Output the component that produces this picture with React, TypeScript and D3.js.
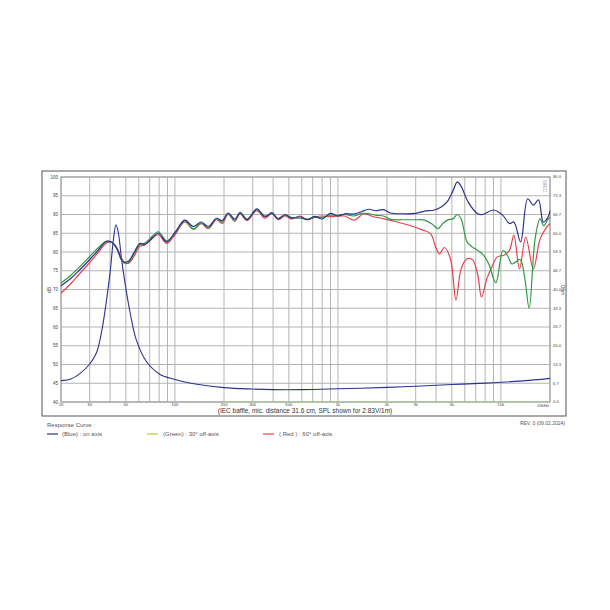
import { scaleLinear, scaleLog, line, curveCatmullRom, range } from "d3";

// on axis (blue) — [Hz, dB]
const blueSpl: [number, number][] = [
  [20, 71.0], [23, 73.0], [26, 75.2], [30, 78.0], [34, 80.6], [38, 82.8], [41, 82.6],
  [44, 81.0], [47, 78.0], [49, 77.3], [52, 77.6], [56, 79.8], [61, 82.3], [65, 82.0],
  [70, 83.0], [79, 85.0], [89, 82.7], [100, 85.2], [115, 88.5], [130, 86.8], [145, 88.0],
  [160, 86.8], [180, 89.0], [195, 88.4], [212, 90.4], [233, 88.8], [251, 90.4], [277, 88.6],
  [318, 91.5], [357, 89.4], [394, 90.5], [429, 88.8], [473, 90.0], [520, 89.0], [585, 89.4],
  [650, 88.6], [720, 89.5], [800, 88.8], [900, 90.3], [1000, 89.6], [1100, 90.2], [1250, 90.1],
  [1400, 90.8], [1550, 91.4], [1700, 91.0], [1900, 91.3], [2100, 90.4], [2500, 90.2],
  [3000, 90.3], [3400, 90.9], [3900, 91.2], [4300, 92.0], [4700, 93.5], [5100, 96.5],
  [5400, 98.7], [5700, 97.5], [6300, 93.3], [7200, 90.2], [7700, 90.0], [9000, 91.2],
  [10200, 89.9], [11300, 87.6], [12000, 88.0], [13200, 82.7], [14600, 94.2], [15800, 92.5],
  [17000, 93.9], [18200, 88.0], [19400, 89.2], [20000, 91.0],
];

// 30° off-axis (green)
const greenSpl: [number, number][] = [
  [20, 71.7], [23, 73.8], [26, 76.0], [30, 78.8], [34, 81.2], [38, 82.9], [41, 82.5],
  [44, 80.8], [47, 77.8], [49, 77.0], [52, 77.2], [56, 79.4], [61, 82.0], [65, 82.3],
  [70, 83.5], [79, 85.4], [89, 83.0], [100, 85.0], [115, 88.3], [130, 86.2], [145, 87.6],
  [160, 86.4], [180, 88.8], [195, 88.0], [212, 90.2], [233, 88.4], [251, 90.6], [277, 88.8],
  [318, 91.2], [357, 89.6], [394, 90.2], [429, 89.0], [473, 89.8], [520, 89.2], [585, 89.0],
  [650, 88.8], [720, 89.2], [800, 89.2], [900, 89.8], [1000, 89.8], [1100, 90.0], [1250, 89.6],
  [1400, 90.3], [1550, 90.2], [1700, 89.8], [1900, 89.6], [2100, 88.7], [2500, 88.6],
  [3000, 88.6], [3400, 88.5], [3800, 87.4], [4100, 86.2], [4400, 87.6], [4700, 88.5],
  [5100, 88.9], [5400, 90.0], [5700, 88.8], [6200, 82.7], [6700, 81.3], [7700, 79.5],
  [8400, 76.9], [9300, 71.8], [10300, 80.4], [11000, 79.0], [11700, 76.8], [13100, 78.0],
  [14000, 73.0], [14900, 65.0], [16200, 83.5], [17400, 88.9], [18300, 87.0], [19300, 88.5],
  [20000, 89.3],
];

// 60° off-axis (red)
const redSpl: [number, number][] = [
  [20, 69.0], [23, 71.6], [26, 74.2], [30, 77.2], [34, 80.0], [38, 82.4], [41, 82.6],
  [44, 81.2], [47, 78.4], [49, 77.2], [52, 77.0], [56, 78.8], [61, 81.5], [65, 81.8],
  [70, 83.0], [79, 84.6], [89, 82.3], [100, 84.6], [115, 88.0], [130, 86.0], [145, 87.6],
  [160, 86.2], [180, 88.6], [195, 87.6], [212, 90.0], [233, 88.2], [251, 90.2], [277, 88.4],
  [318, 91.0], [357, 89.0], [394, 90.3], [429, 88.6], [473, 89.6], [520, 88.8], [585, 89.6],
  [650, 88.6], [720, 89.3], [800, 89.6], [900, 89.4], [1000, 89.6], [1100, 89.6], [1260, 88.5],
  [1440, 90.2], [1650, 89.4], [1900, 88.9], [2300, 88.0], [2700, 87.2], [3300, 85.9],
  [3700, 84.9], [4000, 81.0], [4200, 79.5], [4500, 81.2], [4900, 78.2], [5300, 67.2],
  [5700, 75.5], [6200, 78.2], [6700, 77.9], [7200, 74.0], [7600, 68.0], [8200, 72.9],
  [8700, 75.5], [9500, 78.7], [10500, 79.2], [11300, 80.5], [12000, 84.5], [13000, 75.5],
  [14200, 84.0], [15800, 75.5], [17400, 83.5], [19000, 86.5], [20000, 87.6],
];

// impedance (blue, right axis) — [Hz, Ohm]
const impedance: [number, number][] = [
  [20, 7.6], [23, 8.2], [26, 10.0], [30, 13.5], [33, 17.5], [35.5, 25.0], [38, 36.0],
  [40, 46.0], [42, 58.0], [43.5, 63.0], [45, 60.0], [47, 51.0], [49.5, 42.0], [53, 32.0],
  [58, 22.0], [67, 14.3], [81, 9.8], [93, 8.5], [110, 7.4], [140, 6.2], [200, 5.1],
  [300, 4.6], [400, 4.4], [600, 4.4], [1000, 4.7], [2000, 5.2], [3000, 5.6], [5000, 6.2],
  [8000, 6.7], [10000, 7.0], [15000, 7.7], [20000, 8.4],
];

const xTickVals = [20, 30, 50, 100, 200, 300, 500, 1000, 2000, 3000, 5000, 10000, 20000];
const xTickText = ["20", "30", "50", "100", "200", "300", "500", "1k", "2k", "3k", "5k", "10k", "20kHz"];
const ohmTicks = ["0.0", "6.7", "13.3", "20.0", "26.7", "33.3", "40.0", "46.7", "53.3", "60.0", "66.7", "73.3", "80.0"];

const BLUE = "#2e3190";
const GREEN = "#2f9a44";
const RED = "#e5424f";
const FONT = "Liberation Sans, Arial, sans-serif";

const left = 61;
const right = 550;
const top = 177;
const bottom = 402;

function App() {
  const x = scaleLog().domain([20, 20000]).range([left, right]);
  const y = scaleLinear().domain([40, 100]).range([bottom, top]);
  const yOhm = scaleLinear().domain([0, 80]).range([bottom, top]);

  const spl = line<[number, number]>()
    .x((d) => x(d[0]))
    .y((d) => y(d[1]))
    .curve(curveCatmullRom.alpha(0.5));
  const imp = line<[number, number]>()
    .x((d) => x(d[0]))
    .y((d) => yOhm(d[1]))
    .curve(curveCatmullRom.alpha(0.5));

  const dbTicks = range(40, 101, 5);
  const last = xTickVals.length - 1;

  return (
    <svg
      width={610}
      height={610}
      style={{ position: "absolute", left: 0, top: 0, background: "#fff" }}
      fontFamily={FONT}
    >
      {/* outer frame */}
      <rect x={42} y={171} width={524} height={245} fill="none" stroke="#555" strokeWidth={1} />

      {/* grid */}
      {x.ticks().map((f, i) => (
        <line key={"v" + i} x1={x(f)} x2={x(f)} y1={top} y2={bottom} stroke="#b4b4b4" strokeWidth={1} />
      ))}
      {dbTicks.map((d) => (
        <line key={"h" + d} x1={left} x2={right} y1={y(d)} y2={y(d)} stroke="#b4b4b4" strokeWidth={1} />
      ))}
      <rect x={left} y={top} width={right - left} height={bottom - top} fill="none" stroke="#999" strokeWidth={1} />
      <line x1={x(200)} x2={x(20000)} y1={bottom} y2={bottom} stroke="#a9d39a" strokeWidth={1.2} />

      {/* curves */}
      <path d={imp(impedance) ?? ""} fill="none" stroke={BLUE} strokeWidth={1.1} />
      <path d={spl(redSpl) ?? ""} fill="none" stroke={RED} strokeWidth={1.2} />
      <path d={spl(greenSpl) ?? ""} fill="none" stroke={GREEN} strokeWidth={1.2} />
      <path d={spl(blueSpl) ?? ""} fill="none" stroke={BLUE} strokeWidth={1.2} />

      {/* left axis */}
      {dbTicks.map((d) => (
        <text key={"l" + d} x={58} y={y(d)} dy="0.35em" fontSize={4.5} textAnchor="end" fill="#444">
          {d}
        </text>
      ))}
      <text x={49} y={290} fontSize={5} fill="#444" textAnchor="middle" transform="rotate(-90 49 290)" dy="0.35em">
        dB
      </text>

      {/* right axis */}
      {ohmTicks.map((t, i) => (
        <text key={"r" + t} x={553} y={yOhm((i * 80) / 12)} dy="0.35em" fontSize={4.2} fill="#444">
          {t}
        </text>
      ))}
      <text x={563} y={290} fontSize={5} fill="#444" textAnchor="middle" transform="rotate(90 563 290)" dy="0.35em">
        Ohm
      </text>
      <text x={545} y={186} fontSize={5} fill="#999" textAnchor="middle" transform="rotate(-90 545 186)" dy="0.35em">
        D365
      </text>

      {/* bottom axis */}
      {xTickVals.map((f, i) => (
        <text
          key={"b" + f}
          x={i === last ? x(f) - 1 : x(f)}
          y={i === last ? 406 : 405}
          dy="0.35em"
          fontSize={4.2}
          textAnchor={i === last ? "end" : "middle"}
          fill="#444"
        >
          {xTickText[i]}
        </text>
      ))}
      <text x={305} y={411} dy="0.35em" fontSize={6.5} textAnchor="middle" fill="#333">
        (IEC baffle, mic. distance 31.6 cm, SPL shown for 2.83V/1m)
      </text>

      {/* notes & legend */}
      <text x={565} y={423} dy="0.35em" fontSize={5} textAnchor="end" fill="#555">
        REV. 0 (09.02.2024)
      </text>
      <text x={47} y={425} dy="0.35em" fontSize={6} fill="#555">
        Response Curve :
      </text>
      <line x1={47} x2={58} y1={434} y2={434} stroke={BLUE} strokeWidth={1.2} />
      <text x={62} y={434} dy="0.35em" fontSize={6} fill="#555">
        (Blue)  : on axis
      </text>
      <line x1={147} x2={158} y1={434} y2={434} stroke="#b9d13a" strokeWidth={1.2} />
      <text x={163} y={434} dy="0.35em" fontSize={6} fill="#555">
        (Green) : 30° off-axis
      </text>
      <line x1={263} x2={274} y1={434} y2={434} stroke={RED} strokeWidth={1.2} />
      <text x={279} y={434} dy="0.35em" fontSize={6} fill="#555">
        ( Red ) : 60° off-axis
      </text>
    </svg>
  );
}

export default App;
